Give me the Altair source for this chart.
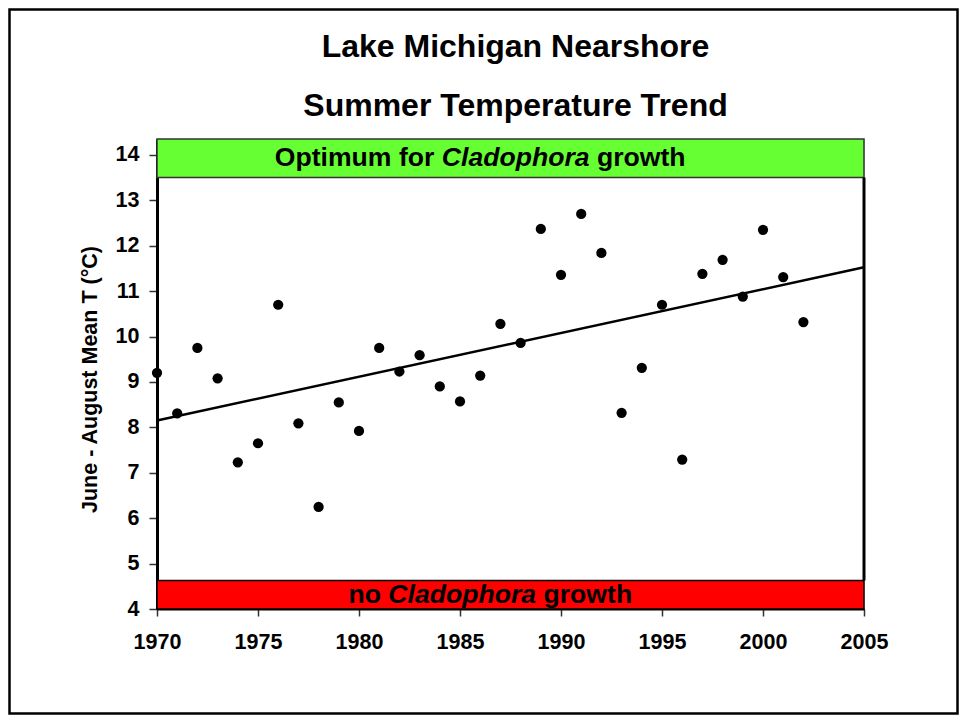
import altair as alt
import pandas as pd

# ---------------- data ----------------
years = list(range(1970, 2003))
temps = [9.20, 8.31, 9.75, 9.08, 7.23, 7.65, 10.70, 8.09, 6.25, 8.55, 7.92,
         9.75, 9.23, 9.59, 8.90, 8.57, 9.14, 10.28, 9.86, 12.37, 11.36, 12.70,
         11.84, 8.32, 9.31, 10.70, 7.29, 11.38, 11.69, 10.88, 12.35, 11.31, 10.32]

title_lines = ["Lake Michigan Nearshore", "Summer Temperature Trend"]
y_title = "June - August Mean T (°C)"
x_ticks = [1970, 1975, 1980, 1985, 1990, 1995, 2000, 2005]
y_ticks = [4, 5, 6, 7, 8, 9, 10, 11, 12, 13, 14]

x_domain = [1970, 2005]
y_domain = [4, 14.35]

band_x = [1970, 1970]
band_x2 = [2005, 2005]
band_y = [13.5, 4.0]
band_y2 = [14.35, 4.63]
band_fill = ["#66FF33", "#FF0000"]
band_stroke = ["#333333", "#000000"]

label_x = [1986.0, 1986.5]
label_y = [13.925, 4.315]
label_left = ["Optimum for", "no"]
label_ital = ["Cladophora", "Cladophora"]
label_right = ["growth", "growth"]

FONT = "Liberation Sans"
LABEL_SIZE = 26.6
# pixel offsets of the three text pieces, measured at 26px and scaled (style)
_k = LABEL_SIZE / 26.0
label_dx = [tuple(v * _k for v in (-44.8, 34.7, 114.1)),
            tuple(v * _k for v in (-106.9, -27.45, 52.0))]

df = pd.DataFrame({"year": years, "temp": temps})
bands = pd.DataFrame({"x": band_x, "x2": band_x2, "y": band_y, "y2": band_y2,
                      "fill": band_fill, "stroke": band_stroke})

xscale = alt.Scale(domain=x_domain, nice=False, zero=False)
yscale = alt.Scale(domain=y_domain, nice=False, zero=False)

xaxis = alt.Axis(values=x_ticks, format="d", title=None, grid=False,
                 labelFont=FONT, labelFontSize=21.5, labelFontWeight="bold",
                 labelColor="black", labelPadding=15, labelFlush=False,
                 tickSize=7, tickColor="#333333", tickWidth=1.5,
                 domainColor="black", domainWidth=2)
yaxis = alt.Axis(values=y_ticks, title=y_title, grid=False,
                 titleFont=FONT, titleFontSize=21.5, titleFontWeight="bold",
                 titleColor="black", titlePadding=14, titleY=240,
                 labelFont=FONT, labelFontSize=21.5, labelFontWeight="bold",
                 labelColor="black", labelPadding=10,
                 tickSize=8, tickColor="#333333", tickWidth=1.5,
                 domainColor="black", domainWidth=3)


def X(field):
    return alt.X(field, type="quantitative", scale=xscale, axis=xaxis)


def Y(field):
    return alt.Y(field, type="quantitative", scale=yscale, axis=yaxis)


band_layer = alt.Chart(bands).mark_rect(strokeWidth=1.5).encode(
    x=X("x"), x2="x2", y=Y("y"), y2="y2",
    fill=alt.Fill("fill:N", scale=None),
    stroke=alt.Stroke("stroke:N", scale=None),
)

right_border = alt.Chart(pd.DataFrame({"x": [x_domain[1]], "y": [band_y2[1]], "y2": [band_y[0]]})).mark_rule(
    color="black", strokeWidth=3).encode(x=X("x"), y=Y("y"), y2="y2")

trend = alt.Chart(df).transform_regression(
    "year", "temp", extent=x_domain).mark_line(color="black", strokeWidth=2.5).encode(
    x=X("year"), y=Y("temp"))

points = alt.Chart(df).mark_circle(size=105, color="black", opacity=1).encode(
    x=X("year"), y=Y("temp"))

text_layers = []
for i in range(2):
    d = pd.DataFrame({"x": [label_x[i]], "y": [label_y[i]],
                      "l": [label_left[i]], "m": [label_ital[i]], "r": [label_right[i]]})
    c = alt.Chart(d)
    common = dict(font=FONT, fontSize=LABEL_SIZE, fontWeight="bold", color="black", baseline="middle")
    text_layers.append(c.mark_text(align="right", dx=label_dx[i][0], **common).encode(
        x=X("x"), y=Y("y"), text="l:N"))
    text_layers.append(c.mark_text(align="center", dx=label_dx[i][1], fontStyle="italic", **common).encode(
        x=X("x"), y=Y("y"), text="m:N"))
    text_layers.append(c.mark_text(align="left", dx=label_dx[i][2], **common).encode(
        x=X("x"), y=Y("y"), text="r:N"))

frame = alt.Chart(pd.DataFrame({"a": [0]})).mark_rect(
    fill="white", fillOpacity=0, stroke="black", strokeWidth=2.5).encode(
    x=alt.value(-147.5), x2=alt.value(800.5), y=alt.value(-129.5), y2=alt.value(574.5))

chart = alt.layer(band_layer, right_border, trend, points, *text_layers, frame).properties(
    width=707, height=470,
    title=alt.Title(text=title_lines, font=FONT, fontSize=32, fontWeight="bold",
                    color="black", lineHeight=59, offset=18, dy=133, anchor="middle", dx=5),
    autosize=alt.AutoSizeParams(type="none"),
    padding={"left": 149, "top": 131, "right": 95, "bottom": 106},
).configure_view(stroke=None).configure(background="white")

chart.save("out.html", embed_options={"renderer": "svg", "actions": False})
